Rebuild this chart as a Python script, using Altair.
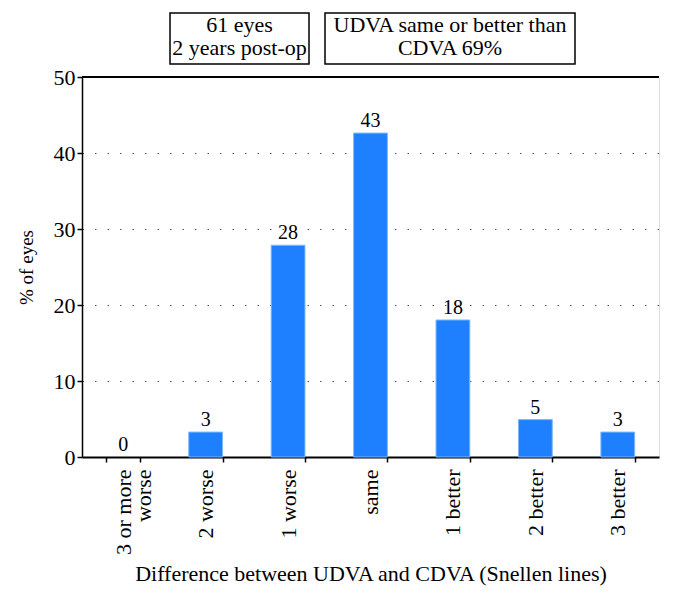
import altair as alt
import pandas as pd

categories = ["3 or more\nworse", "2 worse", "1 worse", "same", "1 better", "2 better", "3 better"]
percent = [0.0, 3.28, 27.87, 42.62, 18.03, 4.92, 3.28]
bar_labels = ["0", "3", "28", "43", "18", "5", "3"]
box_left_text = ["61 eyes", "2 years post-op"]
box_right_text = ["UDVA same or better than", "CDVA 69%"]
y_ticks = [0, 10, 20, 30, 40, 50]

FONT = "Liberation Serif"
W, H = 577, 380

df = pd.DataFrame({"cat": categories, "pct": percent, "lab": bar_labels})

x_enc = alt.X(
    "cat:N",
    sort=categories,
    scale=alt.Scale(domain=categories, paddingInner=0.59, paddingOuter=0.295),
    axis=alt.Axis(
        title="Difference between UDVA and CDVA (Snellen lines)",
        labelAngle=270,
        labelExpr="split(datum.label, '\\n')",
        labelFont=FONT, labelFontSize=22, labelColor="black",
        labelPadding=7, labelLineHeight=20,
        titleFont=FONT, titleFontSize=22, titleFontWeight="normal", titleColor="black",
        titlePadding=9,
        tickBand="extent", tickSize=5, tickColor="black", tickWidth=1.5,
        domainColor="black", domainWidth=2,
        grid=False,
    ),
)

y_enc = alt.Y(
    "pct:Q",
    scale=alt.Scale(domain=[0, 50], nice=False),
    axis=alt.Axis(
        title="% of eyes",
        values=y_ticks,
        labelFont=FONT, labelFontSize=22, labelColor="black", labelPadding=2,
        titleFont=FONT, titleFontSize=19, titleFontWeight="normal", titleColor="black",
        titlePadding=17,
        tickSize=5, tickColor="black", tickWidth=1.5,
        domainColor="black", domainWidth=1.5,
        grid=True, gridColor="#555555", gridDash=[1.5, 11], gridWidth=1.2,
    ),
)

bars = alt.Chart(df).mark_bar(color="#1F80FF", stroke="#7db8ff", strokeWidth=1).encode(
    x=x_enc, y=y_enc,
    strokeOpacity=alt.condition("datum.pct > 0", alt.value(1), alt.value(0)),
)

labels = alt.Chart(df).mark_text(
    font=FONT, fontSize=20, color="black", baseline="alphabetic", dy=-6
).encode(x=alt.X("cat:N", sort=categories), y="pct:Q", text="lab:N")

top_line = alt.Chart(df).mark_rule(color="black", strokeWidth=1.5).encode(
    x=alt.value(0), x2=alt.value(W), y=alt.value(0)
)

one = pd.DataFrame({"k": [0]})
box_l = alt.Chart(one).mark_rect(fill="white", stroke="black", strokeWidth=1.5).encode(
    x=alt.value(88), x2=alt.value(227), y=alt.value(-64), y2=alt.value(-13)
)
box_r = alt.Chart(one).mark_rect(fill="white", stroke="black", strokeWidth=1.5).encode(
    x=alt.value(243), x2=alt.value(493), y=alt.value(-64), y2=alt.value(-13)
)
text_l = alt.Chart(one).mark_text(
    text=box_left_text, font=FONT, fontSize=22, color="black", lineHeight=23,
    align="center", baseline="alphabetic"
).encode(x=alt.value(157.5), y=alt.value(-45))
text_r = alt.Chart(one).mark_text(
    text=box_right_text, font=FONT, fontSize=22, color="black", lineHeight=23,
    align="center", baseline="alphabetic"
).encode(x=alt.value(368), y=alt.value(-45))

chart = alt.layer(bars, labels, top_line, box_l, box_r, text_l, text_r).properties(
    width=W, height=H,
    autosize=alt.AutoSizeParams(type="none"),
    padding={"left": 74, "top": 69, "right": 7, "bottom": 130},
).configure_view(stroke="#888888", strokeWidth=1.5).configure(background="white")

chart.save("out.html", embed_options={"renderer": "svg", "actions": False})
